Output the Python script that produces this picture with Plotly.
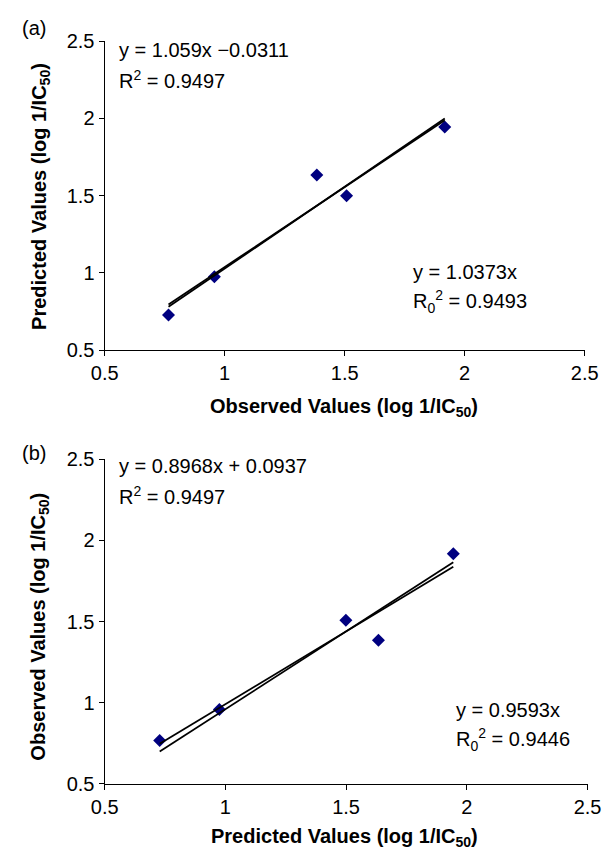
import plotly.graph_objects as go

# Data
observed = [0.766, 0.957, 1.384, 1.508, 1.917]
predicted = [0.728, 0.975, 1.634, 1.499, 1.944]

# Fit coefficients (slope, intercept) from the chart's equations
fit_a = (1.059, -0.0311)
fit0_a = (1.0373, 0.0)
fit_b = (0.8968, 0.0937)
fit0_b = (0.9593, 0.0)

tick_vals = [0.5, 1, 1.5, 2, 2.5]
tick_text = ["0.5", "1", "1.5", "2", "2.5"]

FONT = "Liberation Sans, Arial, sans-serif"
MARK = "#000080"
W, H = 613, 862

fig = go.Figure()


def add_panel(xs, ys, fits, xa, ya):
    fig.add_trace(go.Scatter(x=xs, y=ys, mode="markers", xaxis=xa, yaxis=ya,
                             marker=dict(symbol="diamond", size=10, color=MARK),
                             showlegend=False, hoverinfo="skip"))
    x0, x1 = min(xs), max(xs)
    for m, b in fits:
        fig.add_trace(go.Scatter(x=[x0, x1], y=[m * x0 + b, m * x1 + b], mode="lines",
                                 xaxis=xa, yaxis=ya,
                                 line=dict(color="black", width=1.8),
                                 showlegend=False, hoverinfo="skip"))


add_panel(observed, predicted, [fit_a, fit0_a], "x", "y")
add_panel(predicted, observed, [fit_b, fit0_b], "x2", "y2")

axis_common = dict(range=[0.5, 2.5], tickvals=tick_vals, ticktext=tick_text,
                   showgrid=False, zeroline=False, showline=True, linecolor="black",
                   linewidth=1.3, ticks="outside", ticklen=5, tickcolor="black",
                   tickfont=dict(family=FONT, size=20, color="black"))

fig.update_layout(
    width=W, height=H, margin=dict(l=0, r=0, t=0, b=0),
    paper_bgcolor="white", plot_bgcolor="white",
    xaxis=dict(domain=[95 / W, 598 / W], anchor="y", **axis_common),
    yaxis=dict(domain=[1 - 348 / H, 1 - 31 / H], anchor="x", **axis_common),
    xaxis2=dict(domain=[95 / W, 601 / W], anchor="y2", **axis_common),
    yaxis2=dict(domain=[1 - 793 / H, 1 - 460 / H], anchor="x2", **axis_common),
)


def txt(x, y, s, size=20, bold=False, angle=0, xanchor="left"):
    fig.add_annotation(x=x / W, y=1 - y / H, xref="paper", yref="paper",
                       text=("<b>%s</b>" % s) if bold else s, showarrow=False,
                       xanchor=xanchor, yanchor="middle", textangle=angle,
                       font=dict(family=FONT, size=size, color="black"))


# Panel (a)
txt(6, 17, "(a)")
txt(108, 40, "y = 1.059x −0.0311")
txt(108, 70, "R<sup>2</sup> = 0.9497")
txt(416, 268, "y = 1.0373x")
txt(416, 298, "R<sub>0</sub><sup>2</sup> = 0.9493")
txt(346, 407, "Observed Values (log 1/IC<sub>50</sub>)", bold=True, xanchor="center")
txt(27, 190, "Predicted Values (log 1/IC<sub>50</sub>)", bold=True, angle=-90, xanchor="center")

# Panel (b)
txt(6, 454, "(b)")
txt(108, 467, "y = 0.8968x + 0.0937")
txt(108, 497, "R<sup>2</sup> = 0.9497")
txt(461, 717, "y = 0.9593x")
txt(461, 748, "R<sub>0</sub><sup>2</sup> = 0.9446")
txt(346, 848, "Predicted Values (log 1/IC<sub>50</sub>)", bold=True, xanchor="center")
txt(27, 632, "Observed Values (log 1/IC<sub>50</sub>)", bold=True, angle=-90, xanchor="center")

fig.write_html("out.html", config={"displayModeBar": False},
               post_script="document.body.style.margin='0';document.body.style.overflow='hidden';")
